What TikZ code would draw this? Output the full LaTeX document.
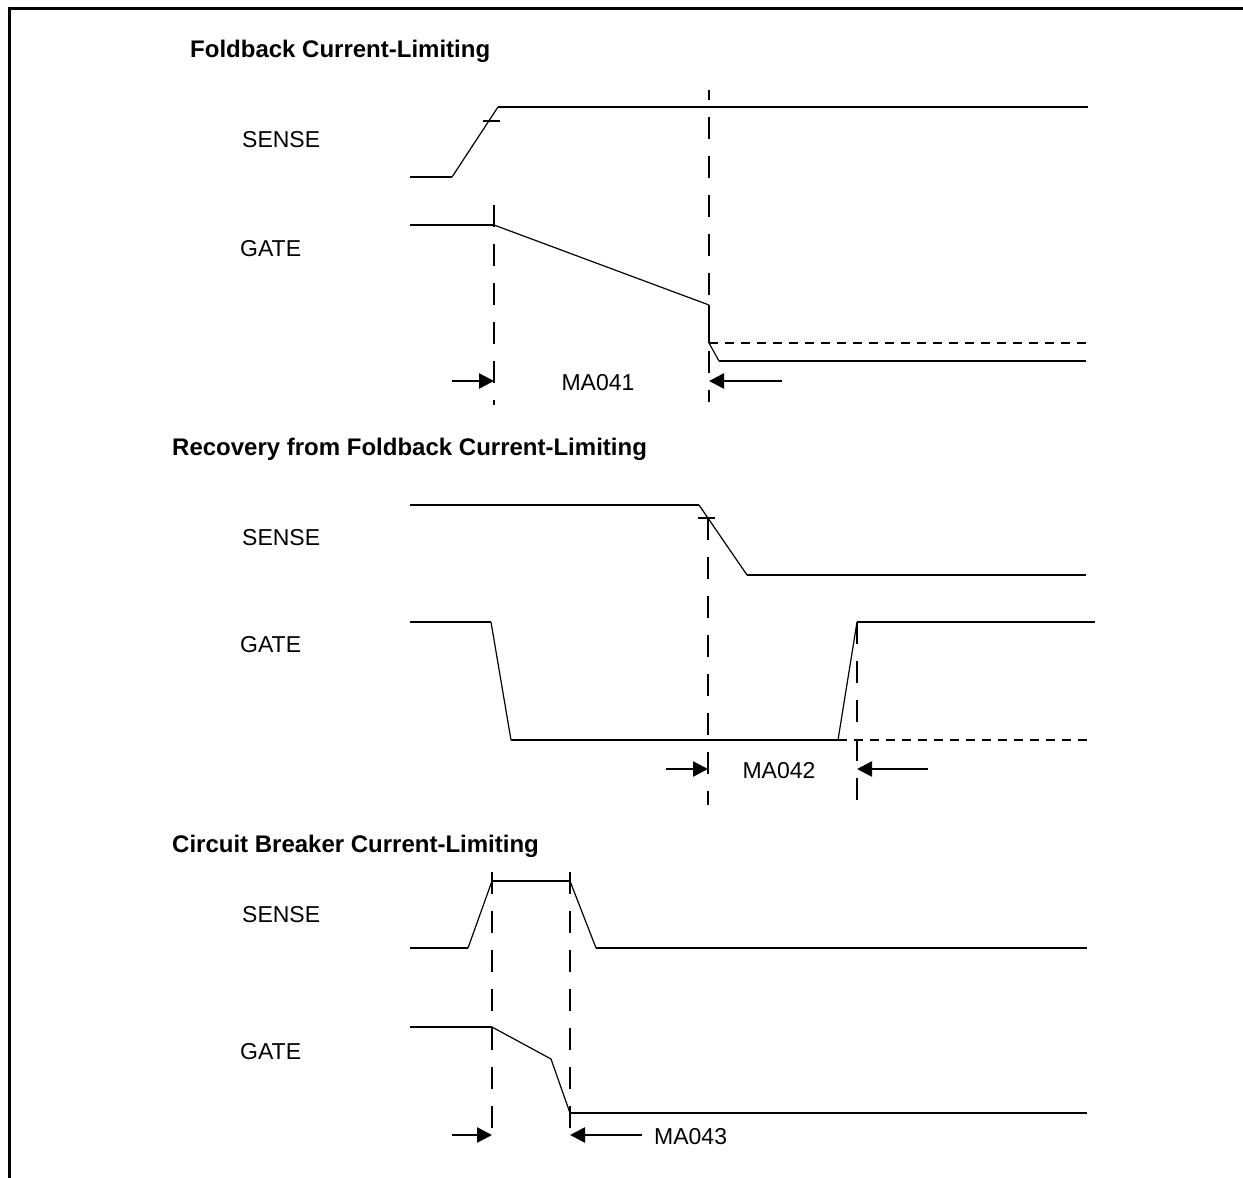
\documentclass[tikz,border=0pt]{standalone}
\usepackage{fontspec}
\setmainfont{Liberation Sans}
\usepackage{tikz}
\usetikzlibrary{arrows.meta}

\tikzset{
  welle/.style={line width=2.5pt},
  flanke/.style={line width=1.2pt},
  hilfslinie/.style={line width=2.5pt, dash pattern=on 22pt off 17pt},
  pegel/.style={line width=2.5pt, dash pattern=on 9pt off 7pt},
  mass/.style={line width=2.5pt, -{Triangle[length=15pt,width=15pt]}},
  titel/.style={anchor=base west, inner sep=0pt, font=\fontsize{24}{29}\selectfont\bfseries},
  signal/.style={anchor=base west, inner sep=0pt, font=\fontsize{23}{28}\selectfont},
  zeit/.style={inner sep=0pt, font=\fontsize{23}{28}\selectfont}
}

\begin{document}
\begin{tikzpicture}[x=1pt, y=-1pt]
      \useasboundingbox (0,0) rectangle (1243,1178);
      % Rahmen
      \draw[line width=3pt] (9,1178) -- (9,8) -- (1243,8);

      % --- TEIL 1: Foldback ---
      \node[titel] (titelA) at (190,57) {Foldback Current-Limiting};
      \node[signal] (senseA) at (242,147) {SENSE};
      \node[signal] (gateA) at (240,256) {GATE};

      % SENSE
      \draw[welle] (410,177) -- (452,177);
      \draw[flanke] (452,177) -- (498,107);
      \draw[welle] (498,107) -- (1088,107);
      \draw[welle] (483,121) -- (500,121);

      % GATE
      \draw[welle] (410,225) -- (494,225);
      \draw[flanke] (494,225) -- (709,305);
      \draw[welle] (709,305) -- (709,343);
      \draw[flanke] (709,343) -- (719,361);
      \draw[welle] (719,361) -- (1086,361);
      \draw[pegel] (709,343) -- (1086,343);

      % Hilfslinien
      \draw[hilfslinie, dash phase=12pt] (709,90) -- (709,402);
      \draw[hilfslinie] (494,205) -- (494,405);

      % Zeitmass
      \coordinate (a1) at (452,381);
      \coordinate (b1) at (494,381);
      \coordinate (c1) at (782,381);
      \coordinate (d1) at (709,381);
      \draw[mass] (a1) -- (b1);
      \draw[mass] (c1) -- (d1);
      \node[zeit, anchor=base] (ma041) at (598,390) {MA041};

      % --- TEIL 2: Recovery ---
      \node[titel] (titelB) at (172,455) {Recovery from Foldback Current-Limiting};
      \node[signal] (senseB) at (242,545) {SENSE};
      \node[signal] (gateB) at (240,652) {GATE};

      % SENSE
      \draw[welle] (410,505) -- (699,505);
      \draw[flanke] (699,505) -- (747,575);
      \draw[welle] (747,575) -- (1086,575);
      \draw[welle] (698,518) -- (715,518);

      % GATE
      \draw[welle] (410,622) -- (491,622);
      \draw[flanke] (491,622) -- (511,740);
      \draw[welle] (511,740) -- (838,740);
      \draw[flanke] (838,740) -- (857,622);
      \draw[welle] (857,622) -- (1095,622);
      \draw[pegel] (838,740) -- (1090,740);

      % Hilfslinien
      \draw[hilfslinie] (708,518) -- (708,805);
      \draw[hilfslinie] (857,622) -- (857,805);

      % Zeitmass
      \coordinate (a2) at (666,769);
      \coordinate (b2) at (708,769);
      \coordinate (c2) at (928,769);
      \coordinate (d2) at (857,769);
      \draw[mass] (a2) -- (b2);
      \draw[mass] (c2) -- (d2);
      \node[zeit, anchor=base] (ma042) at (779,778) {MA042};

      % --- TEIL 3: Circuit Breaker ---
      \node[titel] (titelC) at (172,852) {Circuit Breaker Current-Limiting};
      \node[signal] (senseC) at (242,922) {SENSE};
      \node[signal] (gateC) at (240,1059) {GATE};

      % SENSE
      \draw[welle] (410,948) -- (468,948);
      \draw[flanke] (468,948) -- (492,881);
      \draw[welle] (492,881) -- (570,881);
      \draw[flanke] (570,881) -- (596,948);
      \draw[welle] (596,948) -- (1087,948);

      % GATE
      \draw[welle] (410,1027) -- (492,1027);
      \draw[flanke] (492,1027) -- (551,1059) -- (570,1113);
      \draw[welle] (570,1113) -- (1087,1113);

      % Hilfslinien
      \draw[hilfslinie] (492,872) -- (492,1140);
      \draw[hilfslinie] (570,872) -- (570,1140);

      % Zeitmass
      \coordinate (a3) at (452,1135);
      \coordinate (b3) at (492,1135);
      \coordinate (c3) at (642,1135);
      \coordinate (d3) at (570,1135);
      \draw[mass] (a3) -- (b3);
      \draw[mass] (c3) -- (d3);
      \node[zeit, anchor=base west] (ma043) at (654,1144) {MA043};
    \end{tikzpicture}
\end{document}
